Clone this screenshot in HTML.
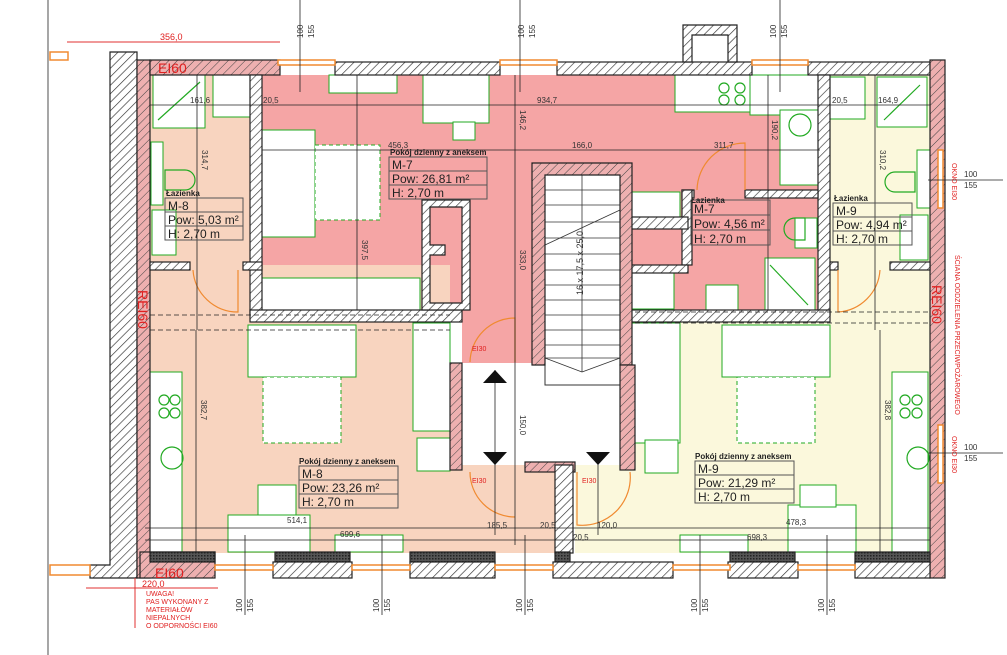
<!DOCTYPE html>
<html><head><meta charset="utf-8"><style>
html,body{margin:0;padding:0;background:#fff;}
svg{display:block;font-family:"Liberation Sans",sans-serif;}
</style></head><body>
<svg width="1007" height="655" viewBox="0 0 1007 655" xmlns="http://www.w3.org/2000/svg">
<defs>
<pattern id="hg" width="6" height="6" patternUnits="userSpaceOnUse" patternTransform="rotate(45)"><rect width="6" height="6" fill="#fff"/><line x1="0" y1="0" x2="0" y2="6" stroke="#333" stroke-width="1.3"/></pattern>
<pattern id="hr" width="6" height="6" patternUnits="userSpaceOnUse" patternTransform="rotate(45)"><rect width="6" height="6" fill="#eeb0b0"/><line x1="0" y1="0" x2="0" y2="6" stroke="#444" stroke-width="1"/></pattern>
<pattern id="dk" width="3" height="3" patternUnits="userSpaceOnUse"><rect width="3" height="3" fill="#555"/><rect width="1.5" height="1.5" fill="#222"/></pattern>
</defs>
<!-- room fills -->
<rect x="150" y="75" width="100" height="190" fill="#f8d4bf"/>
<rect x="262" y="75" width="558" height="115" fill="#f5a5a5"/>
<rect x="262" y="190" width="200" height="122" fill="#f5a5a5"/>
<rect x="462" y="160" width="70" height="205" fill="#f5a5a5"/>
<rect x="630" y="160" width="190" height="152" fill="#f5a5a5"/>
<rect x="830" y="75" width="100" height="190" fill="#fbf8dc"/>
<rect x="150" y="265" width="300" height="288" fill="#f8d4bf"/>
<rect x="450" y="465" width="105" height="88" fill="#f8d4bf"/>
<rect x="575" y="465" width="355" height="88" fill="#fbf8dc"/>
<rect x="635" y="322" width="295" height="145" fill="#fbf8dc"/>
<rect x="830" y="265" width="100" height="60" fill="#fbf8dc"/>
<rect x="462" y="363" width="165" height="102" fill="#fff"/>
<!-- furniture white blocks -->
<g fill="#fff" stroke="#22aa22" stroke-width="1">
<rect x="153" y="75" width="52" height="53"/>
<rect x="213" y="75" width="37" height="42"/>
<rect x="151" y="142" width="12" height="63"/>
<rect x="152" y="210" width="24" height="45"/>
<rect x="329" y="75" width="68" height="18"/>
<rect x="423" y="75" width="66" height="48"/>
<rect x="453" y="122" width="22" height="18"/>
<rect x="262" y="130" width="53" height="107"/>
<rect x="315" y="145" width="65" height="75" stroke-dasharray="4,3"/>
<rect x="262" y="278" width="158" height="32"/>
<rect x="675" y="75" width="75" height="37"/>
<rect x="750" y="75" width="68" height="40"/>
<rect x="780" y="110" width="38" height="75"/>
<rect x="830" y="77" width="35" height="42"/>
<rect x="877" y="77" width="50" height="50"/>
<rect x="917" y="150" width="25" height="58"/>
<rect x="900" y="215" width="28" height="45"/>
<rect x="632" y="192" width="48" height="32"/>
<rect x="632" y="272" width="42" height="37"/>
<rect x="706" y="285" width="32" height="25"/>
<rect x="765" y="258" width="50" height="52"/>
<rect x="795" y="218" width="22" height="30"/>
<rect x="248" y="325" width="108" height="52"/>
<rect x="263" y="377" width="78" height="66" stroke-dasharray="4,3"/>
<rect x="413" y="323" width="37" height="108"/>
<rect x="417" y="438" width="33" height="33"/>
<rect x="145" y="372" width="37" height="180"/>
<rect x="228" y="515" width="82" height="37"/>
<rect x="258" y="485" width="38" height="30"/>
<rect x="335" y="535" width="68" height="17"/>
<rect x="722" y="325" width="108" height="52"/>
<rect x="737" y="377" width="78" height="66" stroke-dasharray="4,3"/>
<rect x="632" y="323" width="48" height="120"/>
<rect x="645" y="440" width="33" height="33"/>
<rect x="892" y="372" width="36" height="180"/>
<rect x="788" y="505" width="68" height="47"/>
<rect x="800" y="485" width="36" height="22"/>
<rect x="680" y="535" width="68" height="17"/>
</g>
<g fill="none" stroke="#22aa22" stroke-width="1.2">
<circle cx="172" cy="458" r="11"/><circle cx="918" cy="458" r="11"/>
<circle cx="800" cy="125" r="11"/>
<circle cx="164" cy="400" r="5"/><circle cx="175" cy="400" r="5"/><circle cx="164" cy="413" r="5"/><circle cx="175" cy="413" r="5"/>
<circle cx="905" cy="400" r="5"/><circle cx="917" cy="400" r="5"/><circle cx="905" cy="413" r="5"/><circle cx="917" cy="413" r="5"/>
<circle cx="724" cy="88" r="5"/><circle cx="740" cy="88" r="5"/><circle cx="724" cy="100" r="5"/><circle cx="740" cy="100" r="5"/>
<path d="M165 170 h20 a10 10 0 0 1 0 20 h-20z"/><path d="M915 172 h-20 a10 10 0 0 0 0 20 h20z"/><path d="M805 218 h-10 a10 10 0 0 0 0 22 h10z"/>
<line x1="158" y1="120" x2="200" y2="82"/><line x1="884" y1="120" x2="920" y2="85"/><line x1="770" y1="265" x2="808" y2="305"/>
</g>
<!-- stairs -->
<rect x="545" y="175" width="75" height="210" fill="#fff" stroke="#333"/>
<g stroke="#333" stroke-width="0.8">
<line x1="545" y1="190" x2="620" y2="190"/><line x1="545" y1="205" x2="620" y2="205"/><line x1="545" y1="222" x2="620" y2="222"/><line x1="545" y1="238" x2="620" y2="238"/><line x1="545" y1="254" x2="620" y2="254"/><line x1="545" y1="270" x2="620" y2="270"/><line x1="545" y1="285" x2="620" y2="285"/><line x1="545" y1="300" x2="620" y2="300"/><line x1="545" y1="315" x2="620" y2="315"/><line x1="545" y1="330" x2="620" y2="330"/><line x1="545" y1="345" x2="620" y2="345"/><line x1="545" y1="358" x2="620" y2="358"/>
<line x1="582" y1="175" x2="582" y2="372"/><line x1="545" y1="245" x2="620" y2="210"/><line x1="545" y1="358" x2="582" y2="372"/><line x1="620" y1="358" x2="582" y2="372"/>
</g>
<text x="0" y="0" font-size="9" fill="#333" transform="translate(583,295) rotate(-90)">16 x 17,5 x 25,0</text>
<!-- walls -->
<g stroke="#222" stroke-width="1.2">
<path d="M110 52 H137 V578 H90 V565 H110 Z" fill="url(#hg)"/>
<rect x="137" y="60" width="13" height="518" fill="url(#hr)"/>
<rect x="150" y="60" width="130" height="15" fill="url(#hr)"/>
<rect x="335" y="62" width="165" height="13" fill="url(#hg)"/>
<rect x="557" y="62" width="195" height="13" fill="url(#hg)"/>
<rect x="808" y="62" width="122" height="13" fill="url(#hg)"/>
<rect x="930" y="60" width="15" height="518" fill="url(#hr)"/>
<path d="M683 25 H737 V62 H728 V35 H692 V62 H683Z" fill="url(#hg)"/>
<rect x="250" y="75" width="12" height="240" fill="url(#hg)"/>
<rect x="818" y="75" width="12" height="240" fill="url(#hg)"/>
<rect x="150" y="262" width="40" height="8" fill="url(#hg)"/>
<rect x="243" y="262" width="19" height="8" fill="url(#hg)"/>
<rect x="830" y="262" width="8" height="8" fill="url(#hg)"/>
<rect x="890" y="262" width="40" height="8" fill="url(#hg)"/>
<rect x="250" y="310" width="212" height="12" fill="url(#hg)"/>
<rect x="630" y="310" width="200" height="12" fill="url(#hg)"/>
<rect x="682" y="190" width="12" height="8" fill="url(#hg)"/>
<rect x="745" y="190" width="73" height="8" fill="url(#hg)"/>
<rect x="682" y="190" width="10" height="75" fill="url(#hg)"/>
<path d="M422 200 H470 V310 H422 Z M430 207 V245 H445 V255 H430 V303 H462 V207 Z" fill="url(#hg)" fill-rule="evenodd"/>
<rect x="628" y="217" width="60" height="12" fill="url(#hg)"/>
<rect x="628" y="265" width="60" height="8" fill="url(#hg)"/>
<path d="M532 163 H632 V365 H620 V175 H545 V365 H532Z" fill="url(#hr)"/>
<rect x="450" y="363" width="12" height="107" fill="url(#hr)"/>
<rect x="620" y="365" width="15" height="105" fill="url(#hr)"/>
<rect x="525" y="462" width="50" height="10" fill="url(#hr)"/>
<rect x="555" y="465" width="18" height="88" fill="url(#hg)"/>
<rect x="140" y="552" width="75" height="26" fill="url(#hr)"/>
<rect x="150" y="552" width="65" height="10" fill="url(#dk)"/>
<rect x="275" y="552" width="75" height="10" fill="url(#dk)"/><rect x="273" y="562" width="79" height="16" fill="url(#hg)"/>
<rect x="410" y="552" width="85" height="10" fill="url(#dk)"/><rect x="410" y="562" width="85" height="16" fill="url(#hg)"/>
<rect x="555" y="552" width="15" height="10" fill="url(#dk)"/><rect x="553" y="562" width="120" height="16" fill="url(#hg)"/>
<rect x="730" y="552" width="65" height="10" fill="url(#dk)"/><rect x="728" y="562" width="70" height="16" fill="url(#hg)"/>
<rect x="855" y="552" width="75" height="10" fill="url(#dk)"/><rect x="855" y="562" width="75" height="16" fill="url(#hg)"/>
</g>
<!-- windows -->
<g fill="#fff" stroke="#f08a30" stroke-width="1.5">
<rect x="278" y="60" width="57" height="5"/><rect x="500" y="60" width="57" height="5"/><rect x="752" y="60" width="56" height="5"/>
<rect x="215" y="565" width="58" height="5"/><rect x="352" y="565" width="58" height="5"/><rect x="495" y="565" width="58" height="5"/><rect x="673" y="565" width="57" height="5"/><rect x="798" y="565" width="57" height="5"/>
<rect x="938" y="150" width="5" height="58"/><rect x="938" y="425" width="5" height="58"/>
<rect x="50" y="52" width="18" height="8"/><rect x="50" y="565" width="40" height="10"/>
</g>
<!-- doors -->
<g fill="none" stroke="#f08a30" stroke-width="1.2">
<path d="M193 270 A45 45 0 0 0 238 312 V270"/>
<path d="M880 270 A45 45 0 0 1 838 312 V270"/>
<path d="M697 190 A48 48 0 0 1 745 143 V190"/>
<path d="M470 362 A45 45 0 0 1 515 318 V362"/>
<path d="M470 472 A45 45 0 0 0 515 517"/>
<path d="M577 472 V525 A48 48 0 0 0 630 472"/>
</g>
<!-- dimension lines -->
<g stroke="#222" stroke-width="0.8" fill="none">
<line x1="150" y1="105" x2="930" y2="105"/><line x1="262" y1="150" x2="820" y2="150"/>
<line x1="300" y1="0" x2="300" y2="92"/><line x1="520" y1="0" x2="520" y2="92"/><line x1="780" y1="0" x2="780" y2="92"/>
<line x1="197" y1="75" x2="197" y2="330"/><line x1="875" y1="75" x2="875" y2="330"/>
<line x1="357" y1="75" x2="357" y2="310"/><line x1="515" y1="75" x2="515" y2="545"/><line x1="768" y1="75" x2="768" y2="310"/>
<line x1="150" y1="315" x2="450" y2="315" stroke-dasharray="5,3"/><line x1="150" y1="330" x2="450" y2="330" stroke-dasharray="5,3"/>
<line x1="635" y1="312" x2="930" y2="312" stroke-dasharray="5,3"/><line x1="635" y1="323" x2="930" y2="323" stroke-dasharray="5,3"/>
<line x1="196" y1="330" x2="196" y2="552"/><line x1="880" y1="330" x2="880" y2="552"/>
<line x1="145" y1="528" x2="930" y2="528"/><line x1="145" y1="540" x2="930" y2="540"/>
<line x1="245" y1="535" x2="245" y2="615"/><line x1="382" y1="535" x2="382" y2="615"/><line x1="525" y1="535" x2="525" y2="615"/><line x1="700" y1="535" x2="700" y2="615"/><line x1="827" y1="535" x2="827" y2="615"/>
<line x1="48" y1="0" x2="48" y2="655"/><line x1="928" y1="180" x2="1003" y2="180"/><line x1="928" y1="453" x2="1003" y2="453"/>
<line x1="598" y1="460" x2="598" y2="535"/><line x1="495" y1="455" x2="495" y2="535"/><line x1="495" y1="370" x2="495" y2="455"/>
</g>
<g stroke="#e03030" stroke-width="1">
<line x1="67" y1="42" x2="280" y2="42"/><line x1="86" y1="588" x2="218" y2="588"/><line x1="135" y1="578" x2="135" y2="628"/>
</g>
<!-- stair arrows -->
<g fill="#111"><path d="M483 383 L495 370 L507 383Z"/><path d="M483 452 L495 465 L507 452Z"/><path d="M586 452 L598 465 L610 452Z"/></g>
<!-- room labels -->
<g font-size="12" fill="#222">
<g stroke="#555" fill="none"><rect x="165" y="198" width="78" height="42"/><line x1="165" y1="212" x2="243" y2="212"/><line x1="165" y1="226" x2="243" y2="226"/>
<rect x="389" y="157" width="98" height="42"/><line x1="389" y1="171" x2="487" y2="171"/><line x1="389" y1="185" x2="487" y2="185"/>
<rect x="691" y="200" width="79" height="45"/><line x1="691" y1="215" x2="770" y2="215"/><line x1="691" y1="230" x2="770" y2="230"/>
<rect x="833" y="203" width="79" height="42"/><line x1="833" y1="217" x2="912" y2="217"/><line x1="833" y1="231" x2="912" y2="231"/>
<rect x="299" y="466" width="99" height="42"/><line x1="299" y1="480" x2="398" y2="480"/><line x1="299" y1="494" x2="398" y2="494"/>
<rect x="695" y="461" width="99" height="42"/><line x1="695" y1="475" x2="794" y2="475"/><line x1="695" y1="489" x2="794" y2="489"/></g>
<g font-size="8" font-weight="bold"><text x="166" y="196">Łazienka</text><text x="390" y="155">Pokój dzienny z aneksem</text><text x="691" y="203">Łazienka</text><text x="834" y="201">Łazienka</text><text x="299" y="464">Pokój dzienny z aneksem</text><text x="695" y="459">Pokój dzienny z aneksem</text></g>
<text x="168" y="210">M-8</text><text x="168" y="224">Pow: 5,03 m²</text><text x="168" y="238">H: 2,70 m</text>
<text x="392" y="169">M-7</text><text x="392" y="183">Pow: 26,81 m²</text><text x="392" y="197">H: 2,70 m</text>
<text x="694" y="213">M-7</text><text x="694" y="228">Pow: 4,56 m²</text><text x="694" y="243">H: 2,70 m</text>
<text x="836" y="215">M-9</text><text x="836" y="229">Pow: 4,94 m²</text><text x="836" y="243">H: 2,70 m</text>
<text x="302" y="478">M-8</text><text x="302" y="492">Pow: 23,26 m²</text><text x="302" y="506">H: 2,70 m</text>
<text x="698" y="473">M-9</text><text x="698" y="487">Pow: 21,29 m²</text><text x="698" y="501">H: 2,70 m</text>
</g>
<!-- dimension texts -->
<g font-size="8" fill="#333">
<text x="190" y="103">161,6</text><text x="263" y="103">20,5</text><text x="537" y="103">934,7</text><text x="832" y="103">20,5</text><text x="878" y="103">164,9</text>
<text x="388" y="148">456,3</text><text x="572" y="148">166,0</text><text x="714" y="148">311,7</text>
<text x="287" y="523">514,1</text><text x="340" y="537">699,6</text><text x="487" y="528">185,5</text><text x="540" y="528">20,5</text><text x="597" y="528">120,0</text><text x="573" y="540">20,5</text><text x="786" y="525">478,3</text><text x="747" y="540">698,3</text>
<text x="964" y="177">100</text><text x="964" y="188">155</text><text x="964" y="450">100</text><text x="964" y="461">155</text>
<g transform="translate(303,38) rotate(-90)"><text>100</text><text y="11">155</text></g>
<g transform="translate(524,38) rotate(-90)"><text>100</text><text y="11">155</text></g>
<g transform="translate(776,38) rotate(-90)"><text>100</text><text y="11">155</text></g>
<g transform="translate(242,612) rotate(-90)"><text>100</text><text y="11">155</text></g>
<g transform="translate(379,612) rotate(-90)"><text>100</text><text y="11">155</text></g>
<g transform="translate(522,612) rotate(-90)"><text>100</text><text y="11">155</text></g>
<g transform="translate(697,612) rotate(-90)"><text>100</text><text y="11">155</text></g>
<g transform="translate(824,612) rotate(-90)"><text>100</text><text y="11">155</text></g>
<text transform="translate(202,150) rotate(90)">314,7</text><text transform="translate(362,240) rotate(90)">397,5</text>
<text transform="translate(520,110) rotate(90)">146,2</text><text transform="translate(520,250) rotate(90)">333,0</text>
<text transform="translate(772,120) rotate(90)">190,2</text><text transform="translate(880,150) rotate(90)">310,2</text>
<text transform="translate(201,400) rotate(90)">382,7</text><text transform="translate(885,400) rotate(90)">382,8</text>
<text transform="translate(520,415) rotate(90)">150,0</text>
</g>
<!-- red labels -->
<g fill="#e02020">
<text x="158" y="73" font-size="14">EI60</text><text x="155" y="578" font-size="14">EI60</text>
<text transform="translate(138,290) rotate(90)" font-size="14">REI60</text>
<text transform="translate(932,285) rotate(90)" font-size="14">REI60</text>
<text x="160" y="40" font-size="9">356,0</text><text x="142" y="587" font-size="9">220,0</text>
<g font-size="7"><text x="146" y="596">UWAGA!</text><text x="146" y="604">PAS WYKONANY Z</text><text x="146" y="612">MATERIAŁÓW</text><text x="146" y="620">NIEPALNYCH</text><text x="146" y="628">O ODPORNOŚCI EI60</text>
<text x="472" y="351">EI30</text><text x="472" y="483">EI30</text><text x="582" y="483">EI30</text>
<text transform="translate(952,163) rotate(90)">OKNO EI30</text><text transform="translate(952,436) rotate(90)">OKNO EI30</text>
<text transform="translate(955,255) rotate(90)">ŚCIANA ODDZIELENIA PRZECIWPOŻAROWEGO</text></g>
</g>
</svg>
</body></html>
